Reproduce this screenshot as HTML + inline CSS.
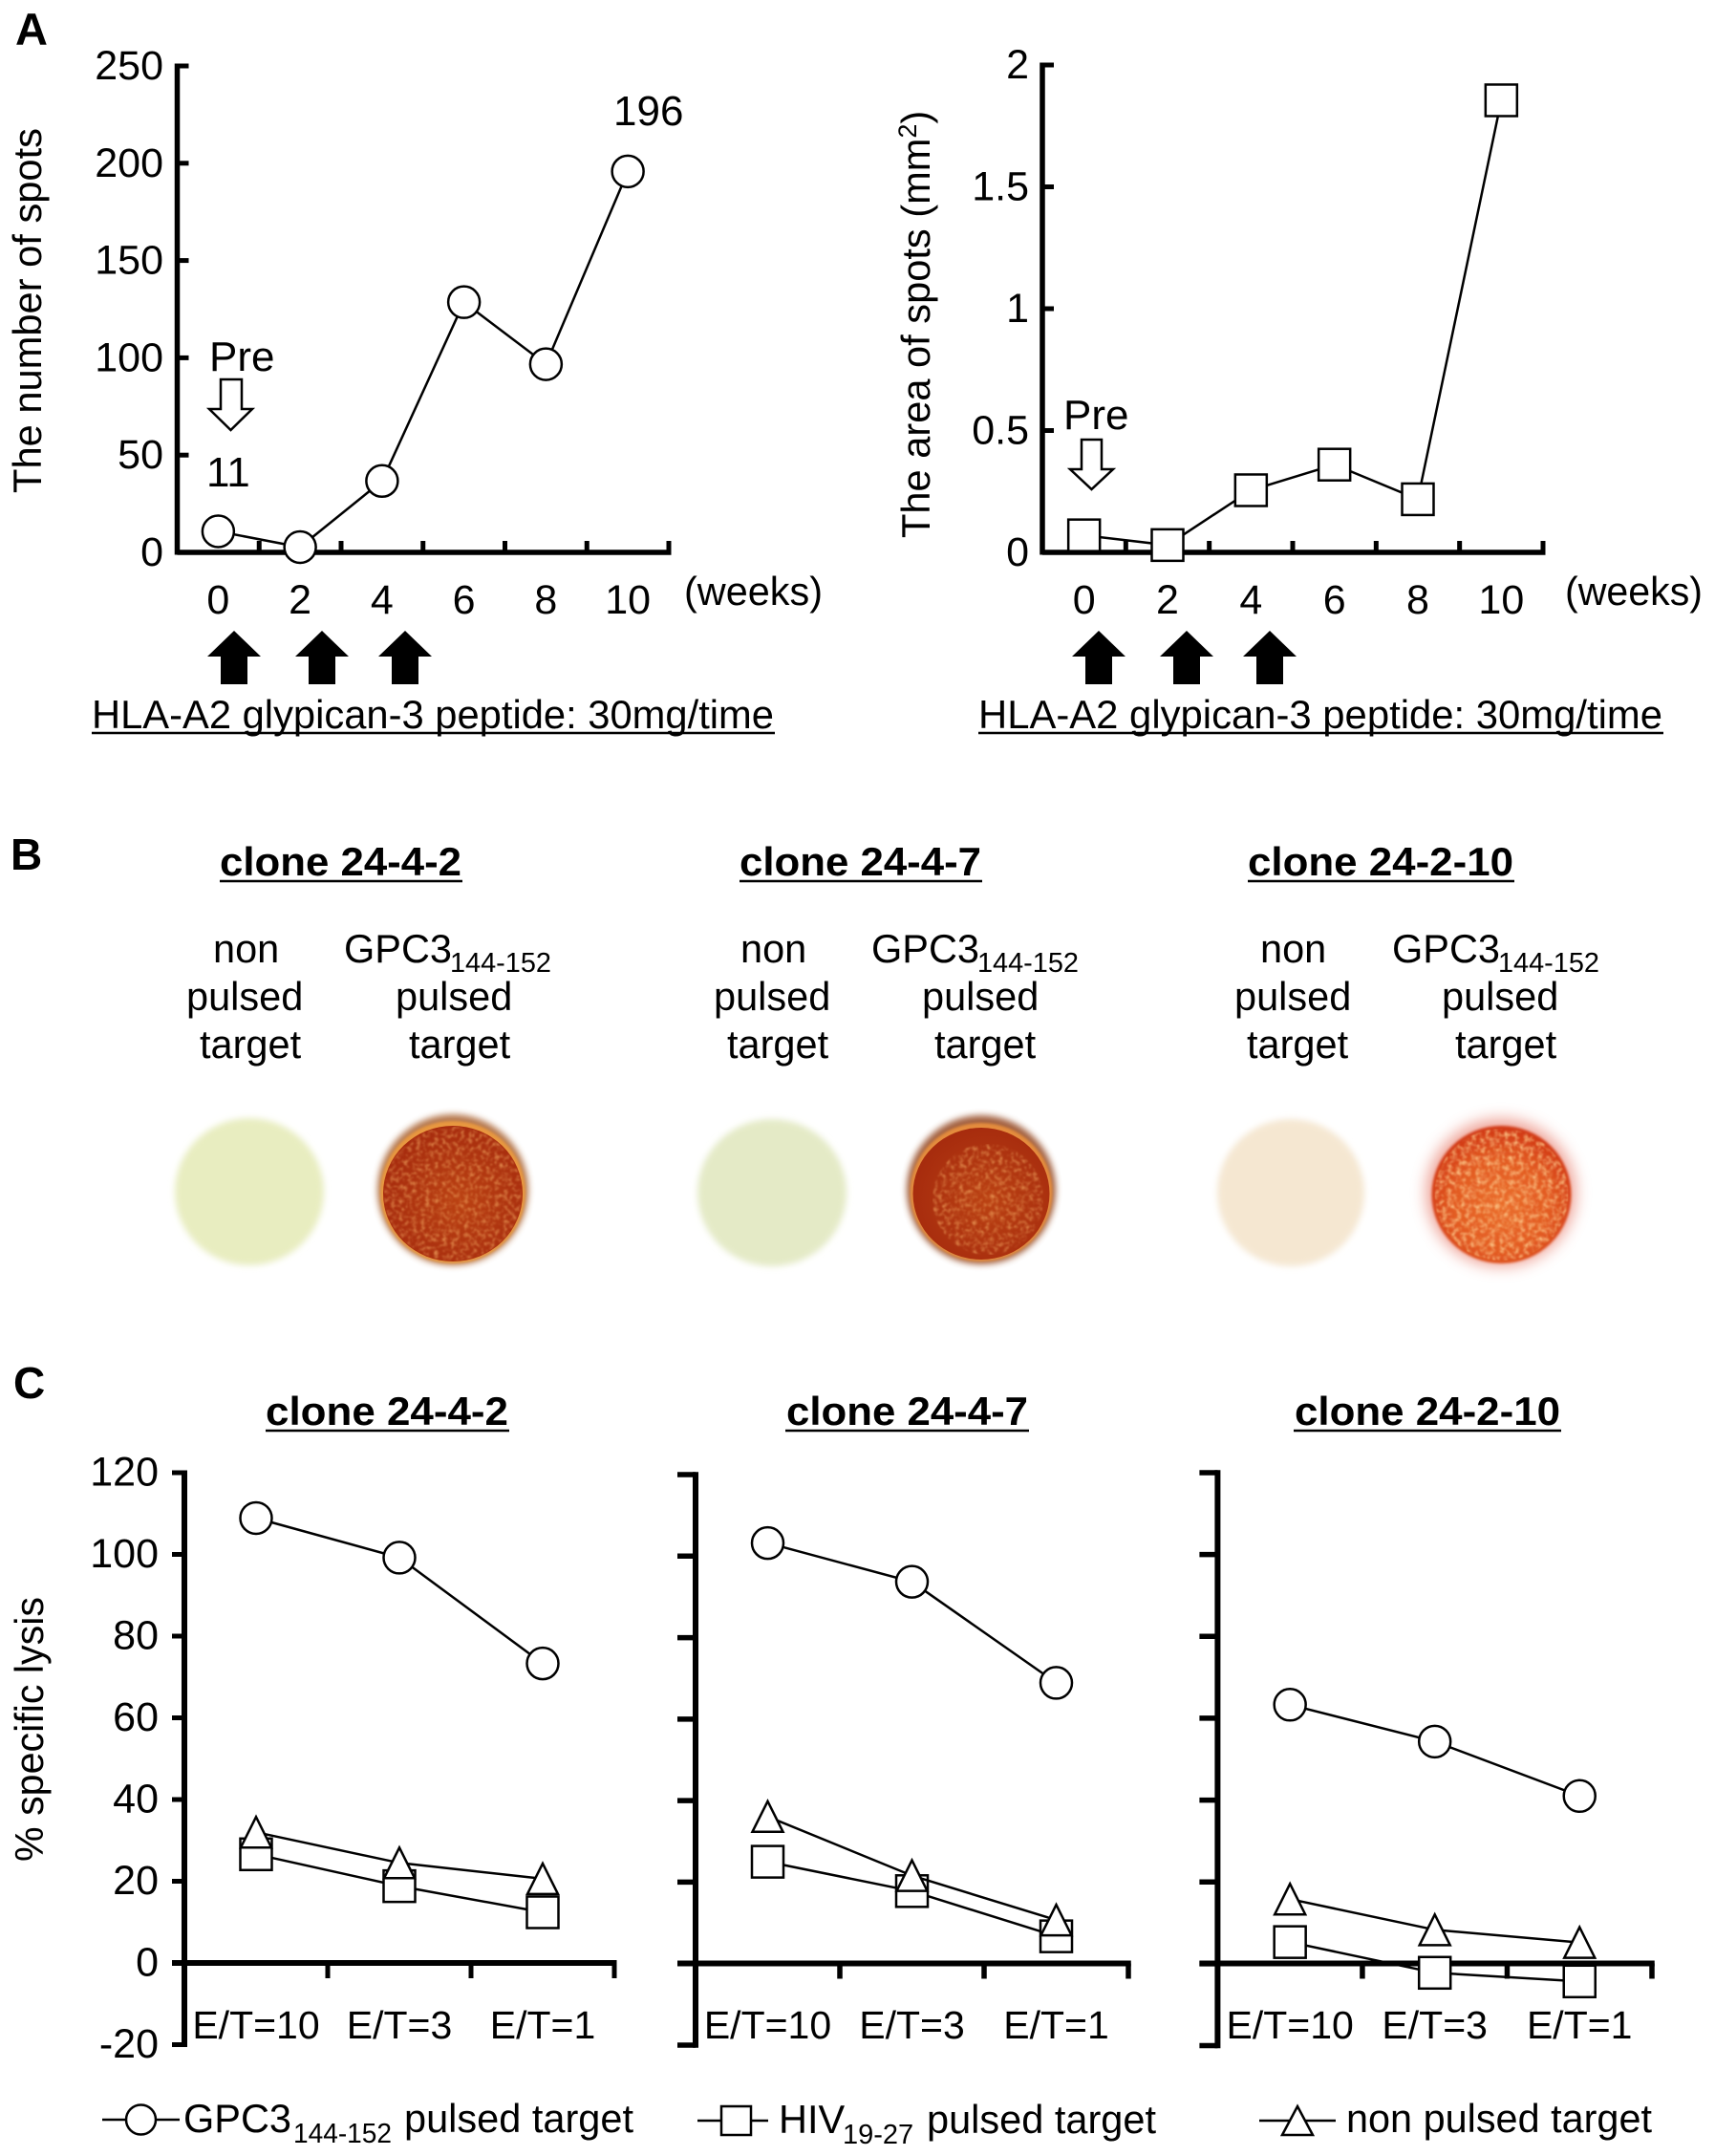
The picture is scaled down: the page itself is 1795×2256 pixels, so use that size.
<!DOCTYPE html>
<html lang="en">
<head>
<meta charset="utf-8">
<title>Glypican-3 peptide response figure</title>
<style>
html,body{margin:0;padding:0;background:#fff;}
svg{display:block;}
text{font-family:"Liberation Sans",sans-serif;fill:#000;font-size:41.5px;}
.b{font-weight:bold;}
.sub{font-size:29px;}
.big{font-size:44px;}
</style>
</head>
<body>
<svg id="fig" xmlns="http://www.w3.org/2000/svg" width="1795" height="2256" viewBox="0 0 1795 2256">
<defs>
<filter id="soft" x="-20%" y="-20%" width="140%" height="140%"><feGaussianBlur stdDeviation="3.5"/></filter>
<filter id="softer" x="-30%" y="-30%" width="160%" height="160%"><feGaussianBlur stdDeviation="8"/></filter>
<filter id="edge" x="-10%" y="-10%" width="120%" height="120%"><feGaussianBlur stdDeviation="1.2"/></filter>
<filter id="grainDark" x="0" y="0" width="100%" height="100%">
<feTurbulence type="fractalNoise" baseFrequency="0.22" numOctaves="2" seed="4"/>
<feColorMatrix type="matrix" values="0 0 0 0 .84  0 0 0 0 .34  0 0 0 0 .10  0 0 0 1.8 -0.8"/>
<feComposite in2="SourceGraphic" operator="in"/>
<feGaussianBlur stdDeviation="0.7"/>
</filter>
<filter id="grainBright" x="0" y="0" width="100%" height="100%">
<feTurbulence type="fractalNoise" baseFrequency="0.2" numOctaves="2" seed="9"/>
<feColorMatrix type="matrix" values="0 0 0 0 .96  0 0 0 0 .52  0 0 0 0 .22  0 0 0 2.2 -0.9"/>
<feComposite in2="SourceGraphic" operator="in"/>
<feGaussianBlur stdDeviation="0.8"/>
</filter>
<radialGradient id="brightFill" cx="50%" cy="58%" r="55%">
<stop offset="0" stop-color="#ea6e2c"/>
<stop offset="0.65" stop-color="#e25a22"/>
<stop offset="1" stop-color="#d23a16"/>
</radialGradient>
<radialGradient id="darkFill" cx="55%" cy="55%" r="55%">
<stop offset="0" stop-color="#bb4213"/>
<stop offset="1" stop-color="#a72c0e"/>
</radialGradient>
</defs>
<rect width="1795" height="2256" fill="#fff"/>

<text class="b" x="16" y="47" style="font-size:47px">A</text>
<text class="b" x="11" y="910" style="font-size:46px">B</text>
<text class="b" x="14" y="1463" style="font-size:46px">C</text>

<!-- Panel A left annotations -->
<g>
<text transform="translate(43 516) rotate(-90)" textLength="382" lengthAdjust="spacingAndGlyphs">The number of spots</text>
<text x="716" y="633" textLength="145" lengthAdjust="spacingAndGlyphs">(weeks)</text>
<text class="big" x="642" y="131">196</text>
<text class="big" x="219" y="388">Pre</text>
<text class="big" x="216" y="509">11</text>
<polygon points="231,397 253,397 253,428 264,428 241.5,450 219,428 231,428" fill="#fff" stroke="#000" stroke-width="2.5"/>
<polygon points="245,660 273,687 259,687 259,716 231,716 231,687 217,687" fill="#000"/>
<polygon points="337,660 365,687 351,687 351,716 323,716 323,687 309,687" fill="#000"/>
<polygon points="424,660 452,687 438,687 438,716 410,716 410,687 396,687" fill="#000"/>
<text x="96" y="762" textLength="714" lengthAdjust="spacingAndGlyphs">HLA-A2 glypican-3 peptide: 30mg/time</text>
<line x1="96" x2="811" y1="767" y2="767" stroke="#000" stroke-width="2.5"/>
</g>

<!-- Panel A right annotations -->
<g>
<text transform="translate(973 563) rotate(-90)" style="font-size:41.6px">The area of spots (mm<tspan dy="-14" style="font-size:27px">2</tspan><tspan dy="14">)</tspan></text>
<text x="1638" y="633" textLength="144" lengthAdjust="spacingAndGlyphs">(weeks)</text>
<text class="big" x="1113" y="449">Pre</text>
<polygon points="1132,460 1153,460 1153,491 1165,491 1142.5,512 1120,491 1132,491" fill="#fff" stroke="#000" stroke-width="2.5"/>
<polygon points="1150,660 1178,687 1164,687 1164,716 1136,716 1136,687 1122,687" fill="#000"/>
<polygon points="1242,660 1270,687 1256,687 1256,716 1228,716 1228,687 1214,687" fill="#000"/>
<polygon points="1329,660 1357,687 1343,687 1343,716 1315,716 1315,687 1301,687" fill="#000"/>
<text x="1024" y="762" textLength="716" lengthAdjust="spacingAndGlyphs">HLA-A2 glypican-3 peptide: 30mg/time</text>
<line x1="1024" x2="1741" y1="767" y2="767" stroke="#000" stroke-width="2.5"/>
</g>

<!-- Panel B text -->
<g>
<text class="b" x="230" y="916" textLength="253" lengthAdjust="spacingAndGlyphs">clone 24-4-2</text>
<line x1="230" x2="484" y1="922" y2="922" stroke="#000" stroke-width="2.5"/>
<text x="223" y="1007">non</text>
<text x="195" y="1057">pulsed</text>
<text x="209" y="1107">target</text>
<text x="360" y="1007">GPC3</text>
<text class="sub" x="471" y="1017" textLength="106" lengthAdjust="spacingAndGlyphs">144-152</text>
<text x="414" y="1057">pulsed</text>
<text x="428" y="1107">target</text>
</g>
<g>
<text class="b" x="774" y="916" textLength="253" lengthAdjust="spacingAndGlyphs">clone 24-4-7</text>
<line x1="774" x2="1028" y1="922" y2="922" stroke="#000" stroke-width="2.5"/>
<text x="775" y="1007">non</text>
<text x="747" y="1057">pulsed</text>
<text x="761" y="1107">target</text>
<text x="912" y="1007">GPC3</text>
<text class="sub" x="1023" y="1017" textLength="106" lengthAdjust="spacingAndGlyphs">144-152</text>
<text x="965" y="1057">pulsed</text>
<text x="978" y="1107">target</text>
</g>
<g>
<text class="b" x="1306" y="916" textLength="278" lengthAdjust="spacingAndGlyphs">clone 24-2-10</text>
<line x1="1306" x2="1585" y1="922" y2="922" stroke="#000" stroke-width="2.5"/>
<text x="1319" y="1007">non</text>
<text x="1292" y="1057">pulsed</text>
<text x="1305" y="1107">target</text>
<text x="1457" y="1007">GPC3</text>
<text class="sub" x="1568" y="1017" textLength="106" lengthAdjust="spacingAndGlyphs">144-152</text>
<text x="1509" y="1057">pulsed</text>
<text x="1523" y="1107">target</text>
</g>

<!-- Panel B wells -->
<g>
<ellipse cx="261" cy="1247" rx="78" ry="77" fill="#e8edc0" filter="url(#soft)"/>
<g>
<ellipse cx="474" cy="1245" rx="79" ry="79" fill="#a9602f" opacity="0.85" filter="url(#soft)"/>
<ellipse cx="474" cy="1247.5" rx="76" ry="74.5" fill="#e8983f" filter="url(#edge)"/>
<ellipse cx="474" cy="1249" rx="73" ry="71" fill="url(#darkFill)"/>
<ellipse cx="474" cy="1249" rx="72" ry="70" fill="#000" filter="url(#grainDark)"/>
</g>
<ellipse cx="808" cy="1248" rx="78" ry="77" fill="#e4eac6" filter="url(#soft)"/>
<g>
<ellipse cx="1027" cy="1245" rx="78" ry="78" fill="#99502a" opacity="0.9" filter="url(#soft)"/>
<ellipse cx="1027" cy="1247.5" rx="74.5" ry="72.5" fill="#e48c3c" filter="url(#edge)"/>
<ellipse cx="1027" cy="1249" rx="71.5" ry="69" fill="url(#darkFill)"/>
<ellipse cx="1034" cy="1255" rx="58" ry="58" fill="#000" filter="url(#grainDark)"/>
</g>
<ellipse cx="1351" cy="1248" rx="77" ry="77" fill="#f5e7d1" filter="url(#soft)"/>
<g>
<ellipse cx="1571" cy="1248" rx="78" ry="77" fill="#e88070" opacity="0.75" filter="url(#softer)"/>
<ellipse cx="1571.5" cy="1250" rx="73" ry="72" fill="url(#brightFill)" filter="url(#edge)"/>
<ellipse cx="1571.5" cy="1250" rx="70" ry="69" fill="#000" filter="url(#grainBright)"/>
</g>
</g>

<!-- Panel C titles -->
<g>
<text class="b" x="278" y="1491" textLength="254" lengthAdjust="spacingAndGlyphs">clone 24-4-2</text>
<line x1="278" x2="533" y1="1497" y2="1497" stroke="#000" stroke-width="2.5"/>
<text class="b" x="823" y="1491" textLength="253" lengthAdjust="spacingAndGlyphs">clone 24-4-7</text>
<line x1="822" x2="1077" y1="1497" y2="1497" stroke="#000" stroke-width="2.5"/>
<text class="b" x="1355" y="1491" textLength="278" lengthAdjust="spacingAndGlyphs">clone 24-2-10</text>
<line x1="1354" x2="1634" y1="1497" y2="1497" stroke="#000" stroke-width="2.5"/>
<text transform="translate(45 1948) rotate(-90)" textLength="277" lengthAdjust="spacingAndGlyphs">% specific lysis</text>
</g>

<g id="charts"></g>

<!-- Legend -->
<g>
<g>
<line x1="107" x2="188" y1="2218" y2="2218" stroke="#000" stroke-width="2.5"/>
<circle cx="147.5" cy="2218" r="15.5" fill="#fff" stroke="#000" stroke-width="2.5"/>
<text x="192" y="2231">GPC3</text>
<text class="sub" x="307" y="2242" textLength="103" lengthAdjust="spacingAndGlyphs">144-152</text>
<text x="423" y="2231" textLength="240" lengthAdjust="spacingAndGlyphs">pulsed target</text>
</g>
<g>
<line x1="730" x2="804" y1="2219" y2="2219" stroke="#000" stroke-width="2.5"/>
<rect x="755" y="2204" width="31" height="30" fill="#fff" stroke="#000" stroke-width="2.5"/>
<text x="815" y="2232">HIV</text>
<text class="sub" x="882" y="2243">19-27</text>
<text x="970" y="2232" textLength="240" lengthAdjust="spacingAndGlyphs">pulsed target</text>
</g>
<g>
<line x1="1318" x2="1398" y1="2219" y2="2219" stroke="#000" stroke-width="2.5"/>
<polygon points="1358,2204 1374,2234 1342,2234" fill="#fff" stroke="#000" stroke-width="2.5"/>
<text x="1409" y="2231" textLength="320" lengthAdjust="spacingAndGlyphs">non pulsed target</text>
</g>
</g>
</svg>

<script>
// Panel A data
const weekLabels = ['0','2','4','6','8','10'];
const spotCounts = [10.8, 2.7, 36.7, 128.6, 96.7, 195.8];
const spotAreas = [0.07, 0.03, 0.255, 0.36, 0.218, 1.855];
const spotCountTicks = [0, 50, 100, 150, 200, 250];
const spotAreaTicks = [0, 0.5, 1, 1.5, 2];

// Panel C data
const ratioLabels = ['E/T=10','E/T=3','E/T=1'];
const lysisTicks = [-20, 0, 20, 40, 60, 80, 100, 120];
const clone2442Gpc3 = [108.9, 99.2, 73.3];
const clone2442Hiv = [26.6, 18.8, 12.4];
const clone2442Non = [32, 24.5, 20.6];
const clone2447Gpc3 = [103.2, 93.7, 68.9];
const clone2447Hiv = [25, 17.8, 6.7];
const clone2447Non = [36.1, 21.6, 10.7];
const clone24210Gpc3 = [63.3, 54.3, 41];
const clone24210Hiv = [5.3, -2.2, -4.3];
const clone24210Non = [15.8, 8.3, 5.2];

const NS = 'http://www.w3.org/2000/svg';
const root = document.getElementById('charts');

function make(tag, attrs, parent) {
  const node = document.createElementNS(NS, tag);
  for (const k in attrs) node.setAttribute(k, attrs[k]);
  parent.appendChild(node);
  return node;
}

function linearY(yMinValue, yMaxValue, yBottom, yTop) {
  return function (v) {
    return yBottom + (v - yMinValue) / (yMaxValue - yMinValue) * (yTop - yBottom);
  };
}

function bandX(left, right, count) {
  const band = (right - left) / count;
  return function (i) { return left + (i + 0.5) * band; };
}

function drawMarker(g, shape, cx, cy, size, strokeW) {
  let m;
  if (shape === 'circle') {
    m = make('circle', {cx: cx, cy: cy, r: size, fill: '#fff', stroke: '#000', 'stroke-width': strokeW}, g);
    
  } else if (shape === 'square') {
    m = make('rect', {x: cx - size, y: cy - size, width: size * 2, height: size * 2, fill: '#fff', stroke: '#000', 'stroke-width': strokeW}, g);
    
  } else {
    m = make('polygon', {points: cx + ',' + (cy - size) + ' ' + (cx + size) + ',' + (cy + size) + ' ' + (cx - size) + ',' + (cy + size), fill: '#fff', stroke: '#000', 'stroke-width': strokeW}, g);
    
  }
  
}

function drawSeries(parent, name, values, xf, yf, shape, size) {
  const g = make('g', {}, parent);
  
  
  const pts = values.map(function (v, i) { return xf(i).toFixed(1) + ',' + yf(v).toFixed(1); }).join(' ');
  const line = make('polyline', {points: pts, fill: 'none', stroke: '#000', 'stroke-width': 2.5}, g);
  
  
  values.forEach(function (v, i) {
    drawMarker(g, shape, xf(i), yf(v), size, 2.5);
  });
}

function drawAxes(parent, name, f, ticks, xf, yf) {
  const g = make('g', {}, parent);
  
  
  const yAxis = make('line', {x1: f.left, x2: f.left, y1: f.top - f.tw / 2, y2: f.bottom + f.tw / 2, stroke: '#000', 'stroke-width': f.w}, g);
  
  
  const xAxis = make('line', {x1: f.left + Math.min(0, f.yTick), x2: f.right + f.tw / 2, y1: f.zero, y2: f.zero, stroke: '#000', 'stroke-width': f.w}, g);
  
  
  ticks.forEach(function (t) {
    const y = yf(t);
    const mark = make('line', {x1: f.left, x2: f.left + f.yTick, y1: y, y2: y, stroke: '#000', 'stroke-width': f.tw}, g);
    
    
    if (f.labelRight) {
      const lab = make('text', {x: f.labelRight, y: y + f.labelDy, 'text-anchor': 'end', style: 'font-size:43px'}, g);
      lab.textContent = String(t);
      
      
    }
  });
  for (let i = 0; i < f.cats; i++) {
    const bx = xf(i) + (f.right - f.left) / f.cats / 2;
    const m = make('line', {x1: bx, x2: bx, y1: f.zero, y2: f.zero + f.xTick, stroke: '#000', 'stroke-width': f.tw}, g);
    
    
  }
}

function drawCategoryLabels(parent, labels, xf, baseline, size) {
  labels.forEach(function (c, i) {
    const t = make('text', {x: xf(i), y: baseline, 'text-anchor': 'middle', style: 'font-size:' + size + 'px'}, parent);
    t.textContent = c;
    
    
  });
}

function weekChart(name, f, ticks, values, shape, size) {
  const g = make('g', {}, root);
  
  
  const xf = bandX(f.left, f.right, f.cats);
  const yf = linearY(ticks[0], ticks[ticks.length - 1], f.zero, f.top);
  drawAxes(g, name, f, ticks, xf, yf);
  drawCategoryLabels(g, weekLabels, xf, 642, 43);
  drawSeries(g, name + '-series', values, xf, yf, shape, size);
}

function lysisChart(name, f, gpc3, hiv, non) {
  const g = make('g', {}, root);
  
  
  const xf = bandX(f.left, f.right, f.cats);
  const yf = linearY(lysisTicks[0], lysisTicks[lysisTicks.length - 1], f.bottom, f.top);
  drawAxes(g, name, f, lysisTicks, xf, yf);
  drawCategoryLabels(g, ratioLabels, xf, 2133, 41);
  drawSeries(g, name + '-hiv-series', hiv, xf, yf, 'square', 16.5);
  drawSeries(g, name + '-non-pulsed-series', non, xf, yf, 'triangle', 16);
  drawSeries(g, name + '-gpc3-series', gpc3, xf, yf, 'circle', 16.5);
}

weekChart('spot-count-chart',
  {left: 185.5, right: 700, top: 69, bottom: 578, zero: 578, w: 5.5, tw: 5, yTick: 12, xTick: -12, cats: 6, labelRight: 171, labelDy: 14},
  spotCountTicks, spotCounts, 'circle', 16.5);

weekChart('spot-area-chart',
  {left: 1091, right: 1615, top: 68, bottom: 578, zero: 578, w: 5.5, tw: 5, yTick: 12, xTick: -12, cats: 6, labelRight: 1077, labelDy: 14},
  spotAreaTicks, spotAreas, 'square', 16.5);

lysisChart('lysis-chart-clone-24-4-2',
  {left: 193, right: 643, top: 1541, bottom: 2139.5, zero: 2054, w: 6, tw: 5, yTick: -13, xTick: 16, cats: 3, labelRight: 166, labelDy: 13.5},
  clone2442Gpc3, clone2442Hiv, clone2442Non);

lysisChart('lysis-chart-clone-24-4-7',
  {left: 728, right: 1181, top: 1543, bottom: 2140, zero: 2054.5, w: 6, tw: 5.5, yTick: -19, xTick: 16, cats: 3},
  clone2447Gpc3, clone2447Hiv, clone2447Non);

lysisChart('lysis-chart-clone-24-2-10',
  {left: 1274.4, right: 1729, top: 1541, bottom: 2140.5, zero: 2054.5, w: 6, tw: 5.5, yTick: -19, xTick: 16, cats: 3},
  clone24210Gpc3, clone24210Hiv, clone24210Non);
</script>
</body>
</html>
